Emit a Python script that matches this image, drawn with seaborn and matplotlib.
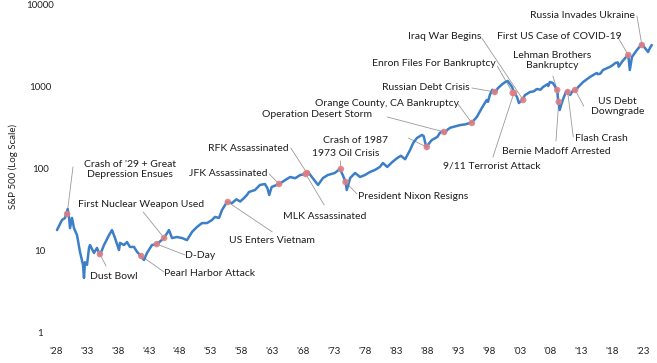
import seaborn as sns
import matplotlib.pyplot as plt

# S&P 500 level (decimal year, index level)
years = [1928.16, 1928.97, 1929.46, 1929.89, 1930.10, 1930.27, 1930.59, 1930.91, 1931.40, 1931.88,
         1932.37, 1932.53, 1932.69, 1933.02, 1933.34, 1933.50, 1934.15, 1934.63, 1935.12, 1935.77,
         1936.58, 1937.06, 1937.55, 1938.19, 1938.36, 1939.00, 1939.49, 1939.97, 1940.62, 1941.11,
         1941.59, 1942.24, 1942.72, 1943.53, 1944.34, 1945.48, 1946.28, 1946.77, 1947.58, 1948.39,
         1949.20, 1950.01, 1950.82, 1951.62, 1952.43, 1953.24, 1953.73, 1954.38, 1954.86, 1955.67,
         1956.48, 1957.20, 1957.80, 1958.42, 1958.90, 1959.23, 1960.20, 1961.00, 1961.80, 1962.20,
         1962.50, 1962.90, 1964.10, 1965.10, 1965.90, 1966.70, 1967.50, 1968.40, 1968.80, 1969.40,
         1970.40, 1971.20, 1972.00, 1973.10, 1973.95, 1974.40, 1974.85, 1975.05, 1975.60, 1976.40,
         1977.20, 1978.00, 1978.80, 1979.60, 1980.40, 1980.90, 1981.60, 1982.40, 1983.20, 1983.80,
         1984.50, 1985.30, 1985.80, 1986.40, 1987.20, 1987.50, 1987.90, 1988.80, 1989.70, 1990.10,
         1990.60, 1990.85, 1991.30, 1991.80, 1993.40, 1994.20, 1995.00, 1995.30, 1996.10, 1996.90,
         1997.70, 1997.90, 1998.20, 1998.60, 1999.00, 1999.50, 2000.20, 2000.70, 2001.10, 2001.80,
         2002.10, 2002.60, 2002.90, 2003.40, 2003.90, 2004.20, 2004.70, 2005.30, 2005.80, 2006.40,
         2006.80, 2007.50, 2007.65, 2007.90, 2008.40, 2009.10, 2009.25, 2009.50, 2010.00, 2010.50,
         2010.80, 2011.20, 2011.70, 2012.00, 2012.50, 2013.30, 2014.40, 2015.50, 2015.70, 2016.10,
         2016.50, 2017.60, 2018.10, 2018.50, 2018.90, 2019.05, 2019.60, 2020.10, 2020.60, 2020.85,
         2021.20, 2022.00, 2022.80, 2023.30, 2023.80, 2024.10, 2024.40]
levels = [17.5, 23.2, 24.6, 31.6, 25.3, 18.5, 24.6, 18.5, 15.2, 9.5,
          6.6, 4.56, 7.1, 6.6, 10.6, 11.5, 9.2, 10.6, 8.7, 11.5,
          15.2, 17.5, 14.0, 10.0, 12.2, 11.5, 12.5, 10.9, 10.9, 9.5,
          8.7, 7.55, 9.2, 11.5, 11.8, 14.0, 17.5, 14.0, 14.4, 14.0,
          13.2, 16.6, 19.1, 21.3, 21.3, 23.2, 25.3, 24.6, 30.7, 38.5,
          37.4, 41.5, 39.0, 43.0, 46.9, 51.0, 53.9, 62.1, 63.8, 57.0,
          46.9, 58.7, 63.8, 71.4, 77.7, 75.0, 82.0, 84.5, 89.4, 77.7,
          62.1, 75.5, 82.2, 86.9, 97.2, 82.2, 67.5, 53.9, 75.5, 86.9,
          77.7, 82.2, 89.4, 94.6, 103, 115, 103, 118, 132, 141,
          128, 166, 202, 232, 253, 245, 180, 219, 239, 267,
          283, 265, 291, 310, 334, 340, 354, 360, 419, 539,
          675, 640, 777, 900, 822, 940, 1050, 1119, 1151, 972,
          845, 734, 620, 675, 777, 800, 845, 860, 919, 900,
          972, 1050, 1000, 1119, 1088, 894, 675, 510, 675, 845,
          869, 777, 894, 869, 972, 1119, 1288, 1442, 1390, 1420,
          1567, 1706, 1800, 1906, 1940, 1720, 1980, 2194, 2389, 1567,
          2258, 2748, 3250, 2906, 2599, 2906, 3162]

# events marked on the line
events = ["Crash of '29 + Great\nDepression Ensues", 'Dust Bowl', 'Pearl Harbor Attack', 'D-Day',
          'First Nuclear Weapon Used', 'US Enters Vietnam', 'JFK Assassinated', 'RFK Assassinated',
          'MLK Assassinated', 'Crash of 1987', '1973 Oil Crisis', 'President Nixon Resigns',
          'Operation Desert Storm', 'Orange County, CA Bankruptcy', 'Russian Debt Crisis',
          'Enron Files For Bankruptcy', 'Iraq War Begins', '9/11 Terrorist Attack',
          'Lehman Brothers\nBankruptcy', 'Bernie Madoff Arrested', 'Flash Crash',
          'US Debt\nDowngrade', 'First US Case of COVID-19', 'Russia Invades Ukraine']
event_years = [1929.8, 1935.1, 1941.8, 1944.3, 1945.5, 1955.8, 1964.1, 1968.6,
               1968.4, 1988.0, 1974.1, 1974.85, 1990.8, 1995.3, 1999.0,
               2001.9, 2003.6, 2002.1, 2009.1, 2009.35, 2010.8,
               2012.0, 2020.6, 2022.8]
event_levels = [27.5, 8.9, 8.45, 11.8, 14.0, 38.5, 63.8, 86.9,
                84.5, 180, 97.2, 67.5, 275, 354, 845,
                822, 675, 822, 894, 640, 845,
                894, 2389, 3162]

x_ticks = list(range(1928, 2024, 5))
x_labels = ["'28", "'33", "'38", "'43", "'48", "'53", "'58", "'63", "'68", "'73",
            "'78", "'83", "'88", "'93", "'98", "'03", "'08", "'13", "'18", "'23"]
y_ticks = [1, 10, 100, 1000, 10000]
y_labels = ['1', '10', '100', '1000', '10000']

# label placement: text centre and end of the leader line (data coords)
label_pos = {
    "Crash of '29 + Great\nDepression Ensues": ((1940.0, 97), (1930.75, 103)),
    'Dust Bowl': ((1937.3, 4.69), (1936.1, 6.38)),
    'Pearl Harbor Attack': ((1952.8, 5.1), (1945.5, 5.39)),
    'D-Day': ((1951.3, 8.45), (1948.9, 8.69)),
    'First Nuclear Weapon Used': ((1941.8, 35.4), (1942.1, 29.1)),
    'US Enters Vietnam': ((1963.0, 12.9), (1963.0, 16.6)),
    'JFK Assassinated': ((1955.9, 86.9), (1962.5, 84.5)),
    'RFK Assassinated': ((1959.1, 175), (1966.0, 175)),
    'MLK Assassinated': ((1971.5, 25.3), (1971.4, 35.4)),
    'Crash of 1987': ((1976.5, 219), (1985.0, 232)),
    '1973 Oil Crisis': ((1974.9, 152), (1974.0, 122)),
    'President Nixon Resigns': ((1985.8, 44.3), (1976.7, 48.2)),
    'Operation Desert Storm': ((1970.2, 443), (1981.6, 419)),
    'Orange County, CA Bankruptcy': ((1981.6, 620), (1993.05, 603)),
    'Russian Debt Crisis': ((1987.9, 972), (1995.3, 946)),
    'Enron Files For Bankruptcy': ((1989.1, 1855), (1999.4, 1754)),
    'Iraq War Begins': ((1990.9, 3960), (1996.9, 3850)),
    '9/11 Terrorist Attack': ((1998.5, 106), (1998.7, 136)),
    'Lehman Brothers\nBankruptcy': ((2008.3, 2046), (2008.4, 1324)),
    'Bernie Madoff Arrested': ((2008.9, 161), (2008.9, 213)),
    'Flash Crash': ((2016.3, 232), (2011.7, 239)),
    'US Debt\nDowngrade': ((2018.9, 562), (2013.4, 570)),
    'First US Case of COVID-19': ((2009.5, 3960), (2018.9, 3960)),
    'Russia Invades Ukraine': ((2013.2, 7140), (2022.0, 7140)),
}

sns.set_style('white')
plt.rcParams['font.family'] = ['Lato', 'DejaVu Sans']

fig = plt.figure(figsize=(6.57, 3.63), dpi=100)
ax = fig.add_axes([50 / 657, 31 / 363, 607 / 657, 328 / 363])

sns.lineplot(x=years, y=levels, ax=ax, color='#3c7fc7', linewidth=1.8, zorder=2)

# leader lines + labels
for name, yr, lv in zip(events, event_years, event_levels):
    (tx, ty), (lx, ly) = label_pos[name]
    ax.plot([yr, lx], [lv, ly], color='#9a9a9a', linewidth=0.6, zorder=1)
    ax.text(tx, ty, name, ha='center', va='center', fontsize=7.5,
            color='#1e1e1e', linespacing=1.15, zorder=4)

sns.scatterplot(x=event_years, y=event_levels, ax=ax, color='#dd7e84',
                s=22, edgecolor='none', alpha=0.9, zorder=3)

ax.set_yscale('log')
ax.set_ylim(1, 10000)
ax.set_xlim(1927.03, 2025.25)
ax.set_yticks(y_ticks)
ax.set_yticklabels(y_labels)
ax.set_xticks(x_ticks)
ax.set_xticklabels(x_labels)
ax.minorticks_off()
ax.tick_params(axis='y', length=0, pad=7, labelsize=7, labelcolor='#222222')
ax.tick_params(axis='x', length=0, pad=10.5, labelsize=7, labelcolor='#222222')
for lbl in ax.get_yticklabels():
    lbl.set_ha('center')

ax.set_ylabel('S&P 500 (Log Scale)', fontsize=7, color='#222222')
ax.yaxis.set_label_coords(-0.052, 0.506)
ax.set_xlabel('')
sns.despine(ax=ax, left=True, bottom=True)
ax.grid(False)

fig.savefig('out.png', dpi=100)
